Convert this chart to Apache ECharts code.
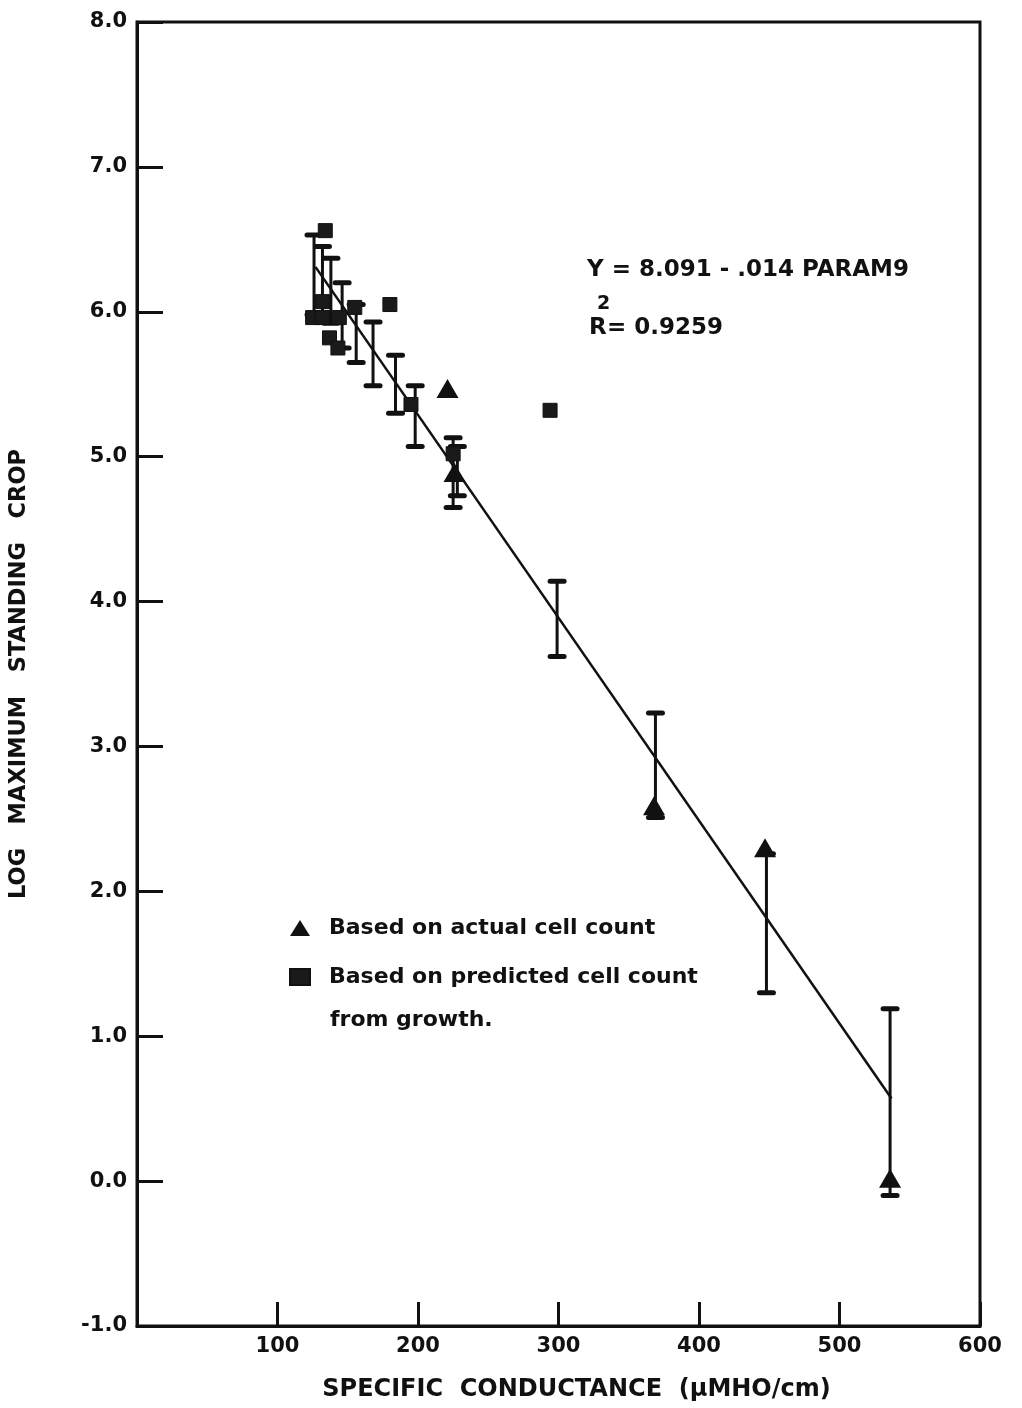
<!DOCTYPE html>
<html>
<head>
<meta charset="utf-8">
<script src="https://cdn.jsdelivr.net/npm/echarts@6/dist/echarts.min.js"></script>
<style>
html,body{margin:0;padding:0;background:#fff;}
#chart{width:1022px;height:1408px;}
</style>
</head>
<body>
<div id="chart"></div>
<script>
// ---- data ----
const xTicks = [0, 100, 200, 300, 400, 500, 600];
const yTicks = [-1, 0, 1, 2, 3, 4, 5, 6, 7, 8];

const actualName = 'Based on actual cell count';
const actualX = [221, 226, 368, 447, 536];
const actualY = [5.47, 4.89, 2.59, 2.30, 0.02];

const predictedName = 'Based on predicted cell count';
const predictedX = [134, 132, 125, 132, 144, 137, 143, 155, 180, 195, 225, 294];
const predictedY = [6.56, 6.07, 5.96, 5.96, 5.96, 5.82, 5.75, 6.03, 6.05, 5.36, 5.02, 5.32];

const errX    = [126, 132, 138, 146, 156, 168, 184, 198, 225, 228, 299, 369, 448, 536];
const errLow  = [5.98, 5.97, 5.92, 5.75, 5.65, 5.49, 5.30, 5.07, 4.65, 4.73, 3.62, 2.51, 1.30, -0.10];
const errHigh = [6.53, 6.45, 6.37, 6.20, 6.05, 5.93, 5.70, 5.49, 5.13, 5.07, 4.14, 3.23, 2.26, 1.19];

const fitX = [127, 537];
const fitY = [6.31, 0.57];

const equationText = 'Y = 8.091 - .014 PARAM9';
const r2Text = '= 0.9259';
// --------------------------------------

const INK = '#111';
const FONT = '"DejaVu Sans", "Liberation Sans", sans-serif';

const chart = echarts.init(document.getElementById('chart'));

const zip = (xs, ys) => xs.map((x, i) => [x, ys[i]]);

const option = {
  backgroundColor: '#fff',
  animation: false,
  grid: {
    left: 137, right: 42, top: 22, bottom: 82,
    show: true, borderColor: INK, borderWidth: 3, backgroundColor: 'transparent'
  },
  xAxis: {
    type: 'value', min: 0, max: 600, interval: 100,
    name: 'SPECIFIC  CONDUCTANCE  (\u03bcMHO/cm)',
    nameLocation: 'middle', nameGap: 52,
    nameTextStyle: { color: INK, fontFamily: FONT, fontWeight: 'bold', fontSize: 24, padding: [0, 0, 0, 36] },
    axisLine: { show: true, onZero: false, lineStyle: { color: INK, width: 3 } },
    axisTick: { show: true, inside: true, length: 24, lineStyle: { color: INK, width: 3 } },
    axisLabel: {
      color: INK, fontFamily: FONT, fontWeight: 'bold', fontSize: 21, margin: 10,
      formatter: v => (xTicks.indexOf(v) > 0 ? String(v) : '')
    },
    splitLine: { show: false }
  },
  yAxis: {
    type: 'value', min: -1, max: 8, interval: 1,
    name: 'LOG   MAXIMUM   STANDING   CROP',
    nameLocation: 'middle', nameGap: 106, nameRotate: 90,
    nameTextStyle: { color: INK, fontFamily: FONT, fontWeight: 'bold', fontSize: 22.5 },
    axisLine: { show: true, onZero: false, lineStyle: { color: INK, width: 3 } },
    axisTick: { show: true, inside: true, length: 26, lineStyle: { color: INK, width: 3 } },
    axisLabel: {
      color: INK, fontFamily: FONT, fontWeight: 'bold', fontSize: 21, margin: 10,
      formatter: v => v.toFixed(1)
    },
    splitLine: { show: false }
  },
  legend: {
    orient: 'vertical', left: 284, top: 912,
    itemWidth: 20, itemHeight: 16, itemGap: 27,
    data: [
      { name: actualName, icon: 'triangle', itemStyle: { opacity: 1, color: INK } },
      { name: predictedName, icon: 'rect', itemStyle: { opacity: 1, color: '#1a1a1a' } }
    ],
    textStyle: { color: INK, fontFamily: FONT, fontWeight: 'bold', fontSize: 22, padding: [0, 0, 0, 14] }
  },
  graphic: [
    {
      type: 'text', left: 330, top: 1009,
      style: { text: 'from growth.', fill: INK, font: 'bold 22px ' + FONT }
    },
    {
      type: 'text', left: 587, top: 259,
      style: { text: equationText, fill: INK, font: 'bold 23px ' + FONT }
    },
    {
      type: 'text', left: 589, top: 317,
      style: { text: 'R', fill: INK, font: 'bold 23px ' + FONT }
    },
    {
      type: 'text', left: 597, top: 295,
      style: { text: '2', fill: INK, font: 'bold 19px ' + FONT }
    },
    {
      type: 'text', left: 607, top: 317,
      style: { text: r2Text, fill: INK, font: 'bold 23px ' + FONT }
    }
  ],
  series: [
    {
      name: 'regression',
      type: 'line',
      data: zip(fitX, fitY),
      symbol: 'none',
      lineStyle: { color: INK, width: 2.5 },
      z: 2
    },
    {
      name: 'error bars',
      type: 'custom',
      data: errX.map((x, i) => [x, errLow[i], errHigh[i]]),
      encode: { x: 0, y: [1, 2] },
      renderItem: function (params, api) {
        const x = api.value(0);
        const lo = api.coord([x, api.value(1)]);
        const hi = api.coord([x, api.value(2)]);
        const cw = 7;
        const st = { stroke: INK, lineWidth: 3 };
        const cs = { stroke: INK, lineWidth: 5, lineCap: 'round' };
        return {
          type: 'group',
          children: [
            { type: 'line', shape: { x1: lo[0], y1: lo[1], x2: hi[0], y2: hi[1] }, style: st },
            { type: 'line', shape: { x1: hi[0] - cw, y1: hi[1], x2: hi[0] + cw, y2: hi[1] }, style: cs },
            { type: 'line', shape: { x1: lo[0] - cw, y1: lo[1], x2: lo[0] + cw, y2: lo[1] }, style: cs }
          ]
        };
      },
      z: 3
    },
    {
      name: predictedName,
      type: 'scatter',
      data: zip(predictedX, predictedY),
      symbol: 'rect',
      symbolSize: 14,
      itemStyle: { color: '#1a1a1a', borderColor: INK, borderWidth: 1, opacity: 1 },
      z: 4
    },
    {
      name: actualName,
      type: 'scatter',
      data: zip(actualX, actualY),
      symbol: 'triangle',
      symbolSize: [22, 19],
      itemStyle: { color: INK, opacity: 1 },
      z: 5
    }
  ]
};

chart.setOption(option);
</script>
</body>
</html>
